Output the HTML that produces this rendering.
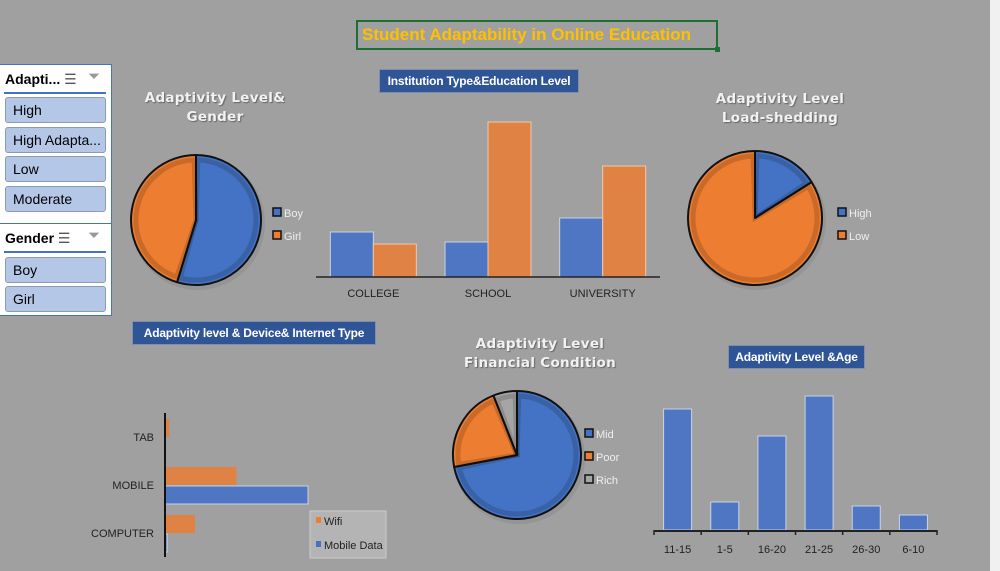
<!DOCTYPE html>
<html><head><meta charset="utf-8">
<style>
body{margin:0;width:1000px;height:571px;overflow:hidden;background:#a0a0a0;font-family:"Liberation Sans",sans-serif;position:relative}
.abs{position:absolute}
.slicer{position:absolute;left:0;width:112px;background:#fff;border:1px solid #4472c4;border-left:none;box-sizing:border-box}
.shead{position:absolute;left:5px;font-size:14px;font-weight:bold;color:#000}
.sline{position:absolute;left:4px;width:102px;height:2px;background:#4472c4}
.btn{position:absolute;left:5px;width:101px;height:26px;background:#b4c7e7;border:1px solid #8c9bb3;border-radius:3px;box-sizing:border-box;font-size:14px;line-height:24px;padding-left:7px;color:#000}
.tbox{position:absolute;background:#2f5597;color:#fff;font-weight:bold;font-size:12px;letter-spacing:-0.2px;border:1px solid #7f8fa9;white-space:nowrap;text-align:center}
.ptitle{position:absolute;color:#f2f2f2;font-weight:bold;font-size:13.5px;text-align:center;font-family:"DejaVu Sans",sans-serif;letter-spacing:0.3px;line-height:19px;text-shadow:1px 1px 1px #666}
svg text{font-family:"Liberation Sans",sans-serif}
</style></head><body>
<div class="abs" style="left:990px;top:0;width:10px;height:571px;background:#f0f0f0"></div>
<div class="abs" style="left:356px;top:20px;width:362px;height:30px;border:2px solid #1e6e33;box-sizing:border-box;color:#ffc000;font-weight:bold;font-size:17px;line-height:26px;padding-left:4px">Student Adaptability in Online Education</div>
<div class="abs" style="left:715px;top:47px;width:5px;height:5px;background:#1e6e33"></div>

<div class="slicer" style="top:64px;height:160px"></div>
<div class="shead" style="top:71px">Adapti... <span style="font-weight:normal;color:#555">☰</span></div>
<div class="abs" style="left:88px;top:68px;color:#999;font-size:15px">⏷</div>
<div class="sline" style="top:92px"></div>
<div class="btn" style="top:97px">High</div>
<div class="btn" style="top:127px">High Adapta...</div>
<div class="btn" style="top:156px">Low</div>
<div class="btn" style="top:186px">Moderate</div>
<div class="slicer" style="top:223px;height:93px"></div>
<div class="shead" style="top:230px">Gender <span style="font-weight:normal;color:#555">☰</span></div>
<div class="abs" style="left:88px;top:227px;color:#999;font-size:15px">⏷</div>
<div class="sline" style="top:251px"></div>
<div class="btn" style="top:257px">Boy</div>
<div class="btn" style="top:286px">Girl</div>

<div class="tbox" style="left:379px;top:69px;width:198px;height:22px;line-height:22px">Institution Type&amp;Education Level</div>
<div class="tbox" style="left:132px;top:321px;width:242px;height:22px;line-height:22px">Adaptivity level &amp; Device&amp; Internet Type</div>
<div class="tbox" style="left:728px;top:345px;width:135px;height:22px;line-height:22px">Adaptivity Level &amp;Age</div>
<div class="ptitle" style="left:130px;top:89px;width:170px">Adaptivity Level&amp;<br>Gender</div>
<div class="ptitle" style="left:690px;top:90px;width:180px">Adaptivity Level<br>Load-shedding</div>
<div class="ptitle" style="left:450px;top:335px;width:180px">Adaptivity Level<br>Financial Condition</div>

<svg id="svg" class="abs" style="left:0;top:0" width="1000" height="571"></svg>
<script>
// Institution chart data
const instCats=["COLLEGE","SCHOOL","UNIVERSITY"];
const instBlue=[45,35,59];
const instOrange=[33,155,111];
// Device chart data
const devCats=["TAB","MOBILE","COMPUTER"];
const devWifi=[3,50,21];
const devMobile=[0,100,1.5];
// Age chart data
const ageCats=["11-15","1-5","16-20","21-25","26-30","6-10"];
const ageVals=[121,28,94,134,24,15];
// Pie data
const genderLabels=["Boy","Girl"];
const genderVals=[54.7,45.3];
const loadLabels=["High","Low"];
const loadVals=[16,84];
const finLabels=["Mid","Poor","Rich"];
const finVals=[72,22,6];

const svg=document.getElementById('svg');
const NS='http://www.w3.org/2000/svg';
function mk(t,a,p){const e=document.createElementNS(NS,t);for(const k in a)e.setAttribute(k,a[k]);(p||svg).appendChild(e);return e;}
const BLUE='#4472c4',ORANGE='#ed7d31',GRAY='#a5a5a5';

// Institution
{const x0=316,x1=660,base=277,band=(x1-x0)/instCats.length,bw=43;
 const y=v=>base-v;
 instCats.forEach((c,i)=>{const cx=x0+band*i+band/2;
  let r=mk('rect',{x:cx-bw,y:y(instBlue[i]),width:bw,height:base-y(instBlue[i]),fill:'#4e76c2',stroke:'#c9d3e6','stroke-width':1});
  
  r=mk('rect',{x:cx,y:y(instOrange[i]),width:bw,height:base-y(instOrange[i]),fill:'#e08244',stroke:'#f0c8a8','stroke-width':1});
  
  const t=mk('text',{x:cx,y:base+20,'text-anchor':'middle','font-size':11,fill:'#222'});t.textContent=c;
  });
 const l=mk('line',{x1:x0,x2:x1,y1:base,y2:base,stroke:'#222','stroke-width':1.5});
 }

// Device
{const ax=165,top=413,bot=557,band=48,first=437,bh=18,sc=143/100;
 devCats.forEach((c,i)=>{const cy=first+band*i;
  let r=mk('rect',{x:ax,y:cy-bh,width:devWifi[i]*sc,height:bh,fill:'#e08244'});
  
  r=mk('rect',{x:ax,y:cy+1,width:devMobile[i]*sc,height:bh,fill:'#4e76c2',stroke:'#c9d3e6','stroke-width':devMobile[i]>0?1:0});
  
  const t=mk('text',{x:154,y:cy+4,'text-anchor':'end','font-size':11,fill:'#222'});t.textContent=c;
  });
 const l=mk('line',{x1:ax,x2:ax,y1:top,y2:bot,stroke:'#111','stroke-width':2});
 
 const g=mk('rect',{x:310,y:511,width:76,height:47,fill:'#b4b4b4',stroke:'#ccc'});
 
 [['Wifi',ORANGE,525],['Mobile Data',BLUE,549]].forEach(([n,c,yy])=>{
  const s=mk('rect',{x:316,y:yy-8,width:5,height:6,fill:c});
  const t=mk('text',{x:324,y:yy,'font-size':11,fill:'#222'});t.textContent=n;});}

// Age
{const x0=654,x1=937,base=530,band=(x1-x0)/ageCats.length,bw=28;
 ageCats.forEach((c,i)=>{const cx=x0+band*i+band/2;
  const r=mk('rect',{x:cx-bw/2,y:base-ageVals[i],width:bw,height:ageVals[i],fill:'#4e76c2',stroke:'#c9d3e6','stroke-width':1});
  
  const t=mk('text',{x:cx,y:base+23,'text-anchor':'middle','font-size':11,fill:'#222'});t.textContent=c;
  });
 const l=mk('line',{x1:x0,x2:x1,y1:base+1,y2:base+1,stroke:'#222','stroke-width':2});
 
 for(let i=0;i<=ageCats.length;i++){const tk=mk('line',{x1:x0+band*i,x2:x0+band*i,y1:base,y2:base+5,stroke:'#222','stroke-width':1.5});
  }}

// Pies
function pie(cx,cy,r,vals,labels,cols,lx,ly,name){
 const tot=vals.reduce((a,b)=>a+b,0);let a=0;
 mk('circle',{cx:cx+2,cy:cy+3,r:r+2,fill:'#8a8a8a',opacity:0.5});
 vals.forEach((v,i)=>{const a0=a,a1=a+v/tot*2*Math.PI;a=a1;
  const p=t=>[cx+r*Math.sin(t),cy-r*Math.cos(t)];const [x0,y0]=p(a0),[x1,y1]=p(a1);
  const d=`M${cx},${cy}L${x0},${y0}A${r},${r} 0 ${a1-a0>Math.PI?1:0} 1 ${x1},${y1}Z`;
  const s=mk('path',{d,fill:cols[i],stroke:'#111','stroke-width':2,'stroke-linejoin':'round'});
  
  const ri=r-5;const q=t=>[cx+ri*Math.sin(t),cy-ri*Math.cos(t)];const [u0,v0]=q(a0+0.03),[u1,v1]=q(a1-0.03);
  mk('path',{d:`M${cx},${cy}L${u0},${v0}A${ri},${ri} 0 ${a1-a0>Math.PI?1:0} 1 ${u1},${v1}Z`,fill:'none',stroke:'rgba(0,0,0,0.15)','stroke-width':5});
  const sw=mk('rect',{x:lx,y:ly+i*23-8,width:8,height:8,fill:cols[i],stroke:'#111','stroke-width':1.5});
  
  const t=mk('text',{x:lx+11,y:ly+i*23+1,'font-size':11,fill:'#eee'});t.textContent=labels[i];
  });}
pie(196,220,65,genderVals,genderLabels,[BLUE,ORANGE],273,216,'gender');
pie(755,218,67,loadVals,loadLabels,[BLUE,ORANGE],838,216,'load');
pie(517,455,64,finVals,finLabels,[BLUE,ORANGE,GRAY],585,437,'fin');
</script>
</body></html>
